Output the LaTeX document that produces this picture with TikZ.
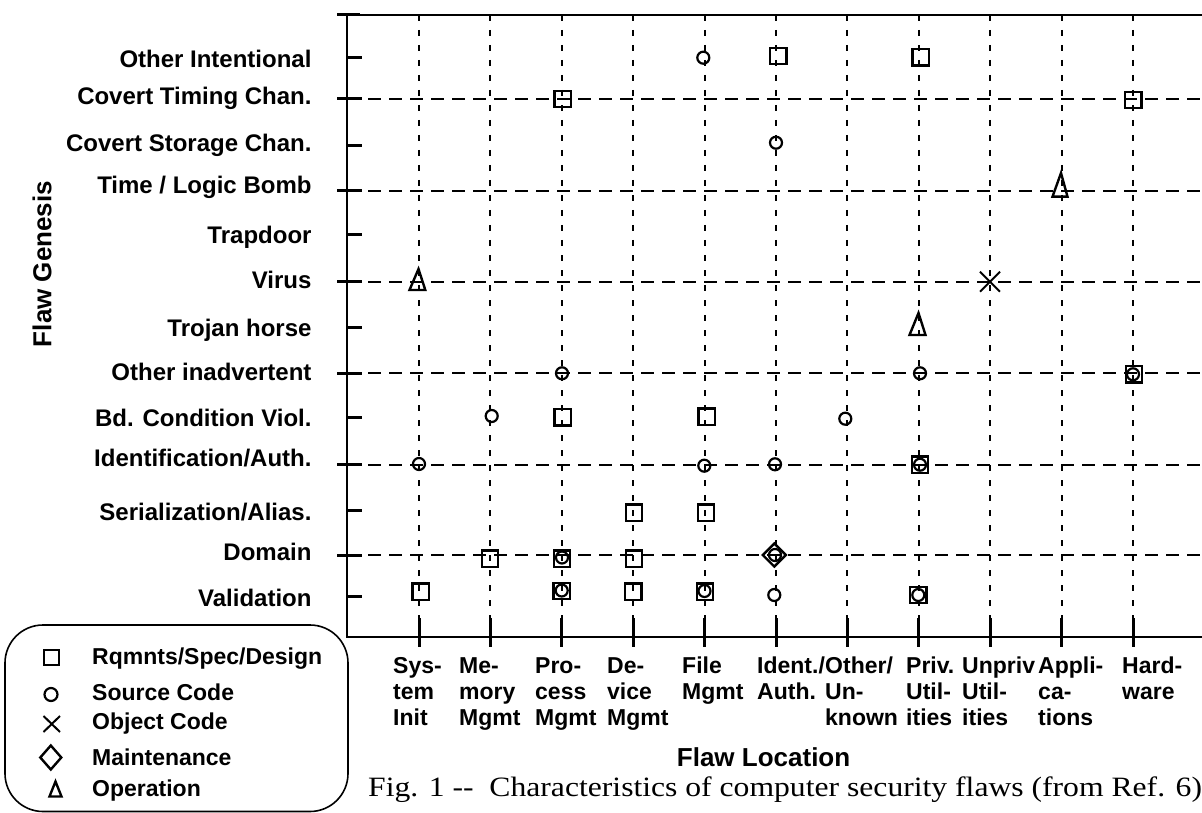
\documentclass[tikz,border=0pt]{standalone}
\usepackage{fontspec}
\setmainfont{Liberation Serif}
\newfontfamily\hv{Liberation Sans}
\newfontfamily\capfont[FakeStretch=1.13]{Liberation Serif}
\usetikzlibrary{shapes.geometric}
\begin{document}
\begin{tikzpicture}[x=1pt,y=-1pt,
  axisline/.style={line width=1.8pt},
  tickline/.style={line width=3pt},
  vgrid/.style={line width=2pt, dash pattern=on 6pt off 9pt},
  hgrid/.style={line width=2pt, dash pattern=on 13pt off 8pt},
  sqm/.style={draw, rectangle, minimum size=16.5pt, inner sep=0pt, line width=2.4pt},
  cim/.style={draw, circle, minimum size=12pt, inner sep=0pt, line width=2.2pt},
  dim/.style={draw, diamond, minimum width=24pt, minimum height=24pt, inner sep=0pt, line width=2.4pt},
  trim/.style={line width=2.4pt, line join=miter},
  crm/.style={line width=2pt},
  rowlab/.style={anchor=base east, inner sep=0pt, font=\hv\bfseries\fontsize{24}{26}\selectfont},
  collab/.style={anchor=north west, inner sep=0pt, align=left, font=\hv\bfseries\fontsize{23}{26}\selectfont},
  leglab/.style={anchor=base west, inner sep=0pt, font=\hv\bfseries\fontsize{23}{26}\selectfont},
  axtitle/.style={font=\hv\bfseries\fontsize{26}{28}\selectfont, inner sep=0pt},
  legbox/.style={line width=1.6pt, rounded corners=38pt}
]
\useasboundingbox (0,0) rectangle (1202,813);

% vertical grid
\foreach \x in {419,490.4,561.8,633.2,704.6,776,847.4,918.8,990.2,1061.6,1133}
  \draw[vgrid] (\x,15) -- (\x,637);
% horizontal dashed grid
\foreach \y in {99,191,281.7,373.3,464.7,555.3}
  \draw[hgrid] (347,\y) -- (1202,\y);

% axes
\draw[axisline] (1202,15) -- (347,15) -- (347,637) -- (1202,637);
% left ticks
\draw[tickline] (337,15) -- (360,15);
\foreach \y in {57.7,145.7,235,327.3,417.7,510,596.7}
  \draw[tickline] (347,\y) -- (362,\y);
\foreach \y in {99,191,281.7,373.3,464.7,555.3}
  \draw[tickline] (337,\y) -- (362,\y);
% bottom ticks
\foreach \x in {419,490.4,561.8,633.2,704.6,776,847.4,918.8,990.2,1061.6,1133}
  \draw[tickline] (\x,618) -- (\x,647);

% row labels
\foreach \b/\t [count=\k] in {67.7/{Other Intentional}, 105/{Covert Timing Chan.}, 151.7/{Covert Storage Chan.}, 193.3/{Time / Logic Bomb}, 243.3/{Trapdoor}, 288.3/{Virus}, 336.7/{Trojan horse}, 380/{Other inadvertent}, 426.7/{Bd. Condition Viol.}, 466.7/{Identification/Auth.}, 520/{Serialization/Alias.}, 560/{Domain}, 606.7/{Validation}}
  \node[rowlab] (row\k) at (311.7,\b) {\t};

% column labels
\node[collab] (col0) at (393,657) {Sys-\\tem\\Init};
\node[collab] (col1) at (459,657) {Me-\\mory\\Mgmt};
\node[collab] (col2) at (535,657) {Pro-\\cess\\Mgmt};
\node[collab] (col3) at (607,657) {De-\\vice\\Mgmt};
\node[collab] (col4) at (682,657) {File\\Mgmt};
\node[collab] (col5) at (757,657) {Ident./\\Auth.};
\node[collab] (col6) at (825,657) {Other/\\Un-\\known};
\node[collab] (col7) at (906,657) {Priv.\\Util-\\ities};
\node[collab] (col8) at (962,657) {Unpriv\\Util-\\ities};
\node[collab] (col9) at (1038,657) {Appli-\\ca-\\tions};
\node[collab] (col10) at (1122,657) {Hard-\\ware};

% axis titles
\node[axtitle, rotate=90] (ytitle) at (42,264) {Flaw Genesis};
\node[axtitle, anchor=base west] (xtitle) at (676.7,766.7) {Flaw Location};

% caption
\node[anchor=base west, inner sep=0pt, font=\capfont\fontsize{28}{30}\selectfont] (caption) at (368,796.5)
  {Fig. 1 -\kern0pt-\ \ Characteristics of computer security flaws (from Ref. 6)};

% markers: squares
\foreach \x/\y [count=\k] in {778.3/56, 920.7/57.3, 562.7/99, 1133.3/100, 1134/374.3, 562.7/417.3, 706.7/416.7, 920/464.7, 634/512.7, 706/512.7, 490/558.7, 562/558.7, 634/558.7, 420.7/591.7, 561.7/591, 633.3/591.7, 705/591.7, 918.3/595}
  \node[sqm] (sq\k) at (\x,\y) {};
% circles
\foreach \x/\y [count=\k] in {703.3/57.7, 776/142.7, 562/373.3, 920/373.3, 1133/374.3, 491.7/416, 845.3/418.7, 419/464, 704.3/465.7, 775/464.3, 920/464.7, 562/557.5, 775/555, 561.7/590.5, 704.5/591, 774.3/595, 918.3/595}
  \node[cim] (ci\k) at (\x,\y) {};
% diamond
\node[dim] (dm1) at (774.3,555) {};
% triangles
\draw[trim] (418.5,269) -- (425.3,290) -- (409.5,290) -- cycle;
\draw[trim] (1061,173) -- (1067.5,196.7) -- (1052.5,196.7) -- cycle;
\draw[trim] (918.5,313) -- (925.5,335) -- (909.5,335) -- cycle;
% cross
\draw[crm] (980,271.7) -- (1000,291.7) (980,291.7) -- (1000,271.7);

% legend
\draw[legbox] (5,625) rectangle (348,811.5);
\node[sqm, minimum size=15pt] (lsq) at (51.7,657.5) {};
\node[cim, minimum size=13pt] (lci) at (51,694.5) {};
\draw[crm] (43.5,716) -- (60,732) (43.5,732) -- (60,716);
\node[dim, minimum width=22pt, minimum height=25pt] (ldm) at (50.8,757.5) {};
\draw[trim] (55.5,781.5) -- (61.5,796.5) -- (49.5,796.5) -- cycle;
\node[leglab] (l1) at (92,664) {Rqmnts/Spec/Design};
\node[leglab] (l2) at (92,700) {Source Code};
\node[leglab] (l3) at (92,729) {Object Code};
\node[leglab] (l4) at (92,765) {Maintenance};
\node[leglab] (l5) at (92,796) {Operation};
\end{tikzpicture}
\end{document}
